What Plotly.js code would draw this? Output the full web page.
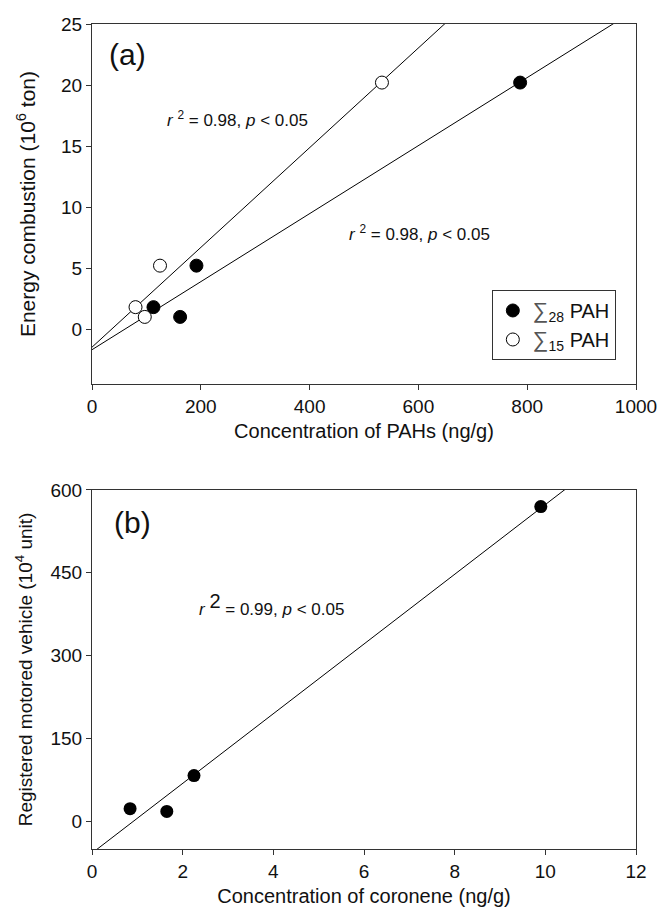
<!DOCTYPE html>
<html>
<head>
<meta charset="utf-8">
<script src="https://cdn.plot.ly/plotly-3.0.1.min.js"></script>
<style>html,body{margin:0;padding:0;background:#fff;}#chart{width:659px;height:908px;}</style>
</head>
<body>
<div id="chart"></div>
<script>
// Panel (a): concentration of PAHs (ng/g) vs energy combustion (10^6 ton)
const pah28X = [113, 162, 192, 787];
const pah28Y = [1.8, 1.0, 5.2, 20.2];
const pah15X = [80, 97, 125, 533];
const pah15Y = [1.8, 1.0, 5.2, 20.2];
// Panel (b): coronene (ng/g) vs registered motored vehicles (10^4 unit)
const coroX = [0.84, 1.65, 2.25, 9.9];
const coroY = [23, 18, 83, 570];

const legendNames = ["<span style=\"font-size:22px;color:#555\">\u2211</span><sub>28</sub> PAH",
                     "<span style=\"font-size:22px;color:#555\">\u2211</span><sub>15</sub> PAH"];
const statsA1 = "<i>r</i> <sup>2</sup> = 0.98, <i>p</i> &lt; 0.05";
const statsA2 = "<i>r</i> <sup>2</sup> = 0.98, <i>p</i> &lt; 0.05";
const statsB = "<i>r</i> <sup><span style=\"font-size:20px\">2</span></sup> = 0.99, <i>p</i> &lt; 0.05";

function fit(xs, ys) {
  const n = xs.length;
  const mx = xs.reduce((a, b) => a + b, 0) / n;
  const my = ys.reduce((a, b) => a + b, 0) / n;
  let sxy = 0, sxx = 0;
  for (let i = 0; i < n; i++) { sxy += (xs[i] - mx) * (ys[i] - my); sxx += (xs[i] - mx) ** 2; }
  const m = sxy / sxx;
  return { m: m, b: my - m * mx };
}
function fitLine(xs, ys, x0, x1, xa, ya) {
  const f = fit(xs, ys);
  return { x: [x0, x1], y: [f.b + f.m * x0, f.b + f.m * x1], mode: 'lines',
    line: { color: '#000', width: 1 }, showlegend: false, hoverinfo: 'skip', xaxis: xa, yaxis: ya };
}

const font = "Liberation Sans, Arial, sans-serif";
const traces = [
  fitLine(pah28X, pah28Y, 0, 1000, 'x', 'y'),
  fitLine(pah15X, pah15Y, 0, 1000, 'x', 'y'),
  { x: pah28X, y: pah28Y, mode: 'markers', name: legendNames[0],
    marker: { color: '#000', size: 13, line: { color: '#000', width: 1 } }, xaxis: 'x', yaxis: 'y', cliponaxis: false },
  { x: pah15X, y: pah15Y, mode: 'markers', name: legendNames[1],
    marker: { color: '#fff', size: 13, line: { color: '#000', width: 1 } }, xaxis: 'x', yaxis: 'y', cliponaxis: false },
  fitLine(coroX, coroY, 0, 12, 'x2', 'y2'),
  { x: coroX, y: coroY, mode: 'markers', showlegend: false,
    marker: { color: '#000', size: 13 }, xaxis: 'x2', yaxis: 'y2', cliponaxis: false }
];

const axBase = {
  showgrid: false, zeroline: false, showline: true, linecolor: '#333', linewidth: 1,
  mirror: true, ticks: 'outside', ticklen: 5, tickwidth: 1, tickcolor: '#333',
  tickfont: { family: font, size: 19, color: '#111' }
};

const layout = {
  width: 659, height: 908,
  margin: { l: 92, r: 23, t: 24, b: 59 },
  paper_bgcolor: '#fff', plot_bgcolor: '#fff',
  font: { family: font, color: '#111' },
  xaxis: Object.assign({}, axBase, { domain: [0, 1], range: [0, 1000], tickvals: [0, 200, 400, 600, 800, 1000],
    anchor: 'y', title: { text: 'Concentration of PAHs (ng/g)', font: { family: font, size: 20 }, standoff: 8 } }),
  yaxis: Object.assign({}, axBase, { domain: [0.5636, 1], range: [-4.5, 25], tickvals: [0, 5, 10, 15, 20, 25],
    anchor: 'x', title: { text: 'Energy combustion (10<sup>6</sup> ton)', font: { family: font, size: 21 }, standoff: 19 } }),
  xaxis2: Object.assign({}, axBase, { domain: [0, 1], range: [0, 12], tickvals: [0, 2, 4, 6, 8, 10, 12],
    anchor: 'y2', title: { text: 'Concentration of coronene (ng/g)', font: { family: font, size: 20 }, standoff: 8 } }),
  yaxis2: Object.assign({}, axBase, { domain: [0, 0.4352], range: [-50, 600], tickvals: [0, 150, 300, 450, 600],
    anchor: 'x2', title: { text: 'Registered motored vehicle (10<sup>4</sup> unit)', font: { family: font, size: 19 }, standoff: 12 } }),
  legend: {
    x: 0.735, y: 0.6776, xanchor: 'left', yanchor: 'top',
    bordercolor: '#333', borderwidth: 1, bgcolor: '#fff',
    font: { family: font, size: 20, color: '#111' }, itemwidth: 20
  },
  annotations: [
    { text: '(a)', x: 28, y: 22.5, xref: 'x', yref: 'y', xanchor: 'left', yanchor: 'middle', showarrow: false,
      font: { family: font, size: 30, color: '#111' } },
    { text: statsA1, x: 134, y: 17.2, xref: 'x', yref: 'y', xanchor: 'left', yanchor: 'middle', showarrow: false,
      font: { family: font, size: 17, color: '#111' } },
    { text: statsA2, x: 469, y: 7.9, xref: 'x', yref: 'y', xanchor: 'left', yanchor: 'middle', showarrow: false,
      font: { family: font, size: 17, color: '#111' } },
    { text: '(b)', x: 0.45, y: 542, xref: 'x2', yref: 'y2', xanchor: 'left', yanchor: 'middle', showarrow: false,
      font: { family: font, size: 30, color: '#111' } },
    { text: statsB, x: 2.32, y: 392, xref: 'x2', yref: 'y2', xanchor: 'left', yanchor: 'middle', showarrow: false,
      font: { family: font, size: 17, color: '#111' } }
  ]
};

Plotly.newPlot('chart', traces, layout, { displayModeBar: false, staticPlot: true });
</script>
</body>
</html>
